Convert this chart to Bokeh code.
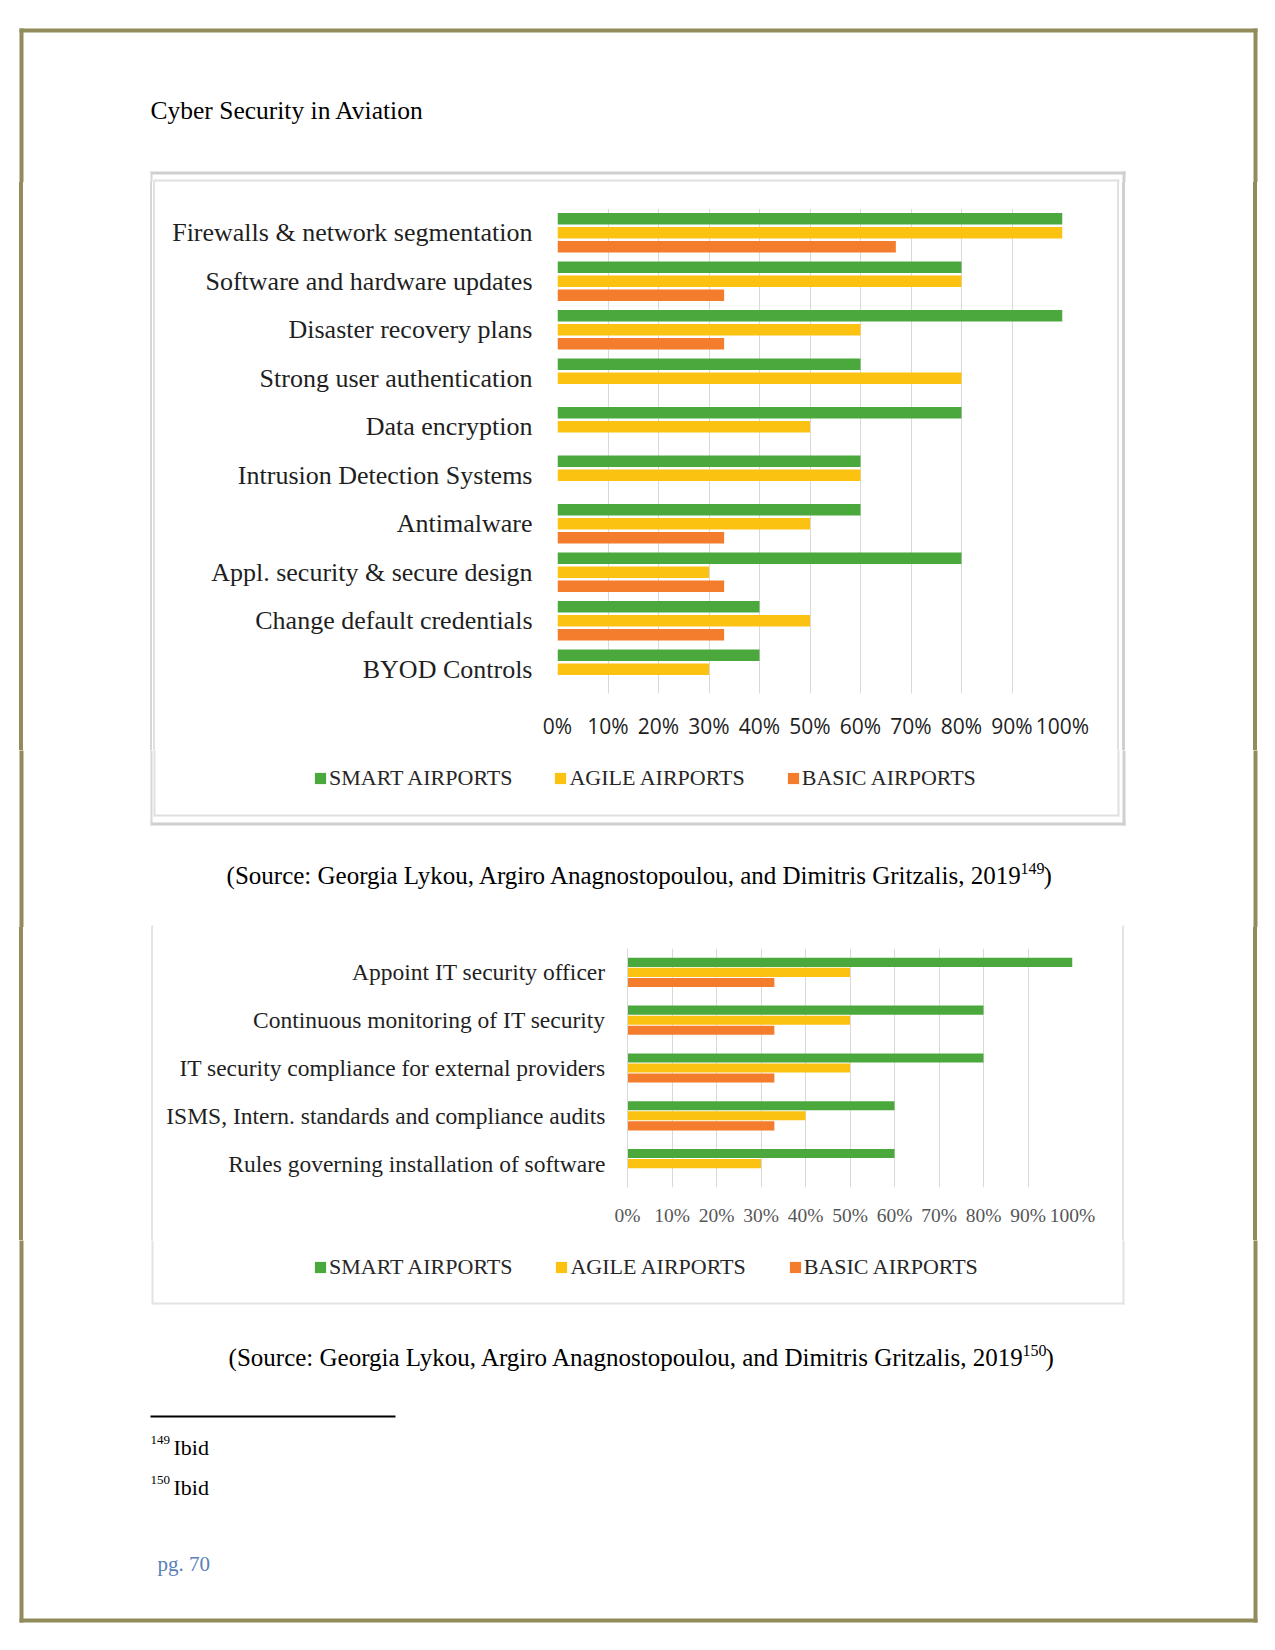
from bokeh.plotting import figure
from bokeh.layouts import column, row
from bokeh.models import (Range1d, FactorRange, FixedTicker, PrintfTickFormatter,
                          Legend, LegendItem, ColumnDataSource, Div)
from bokeh.transform import dodge
from bokeh.core.properties import value
from bokeh.embed import file_html
from bokeh.resources import INLINE

# ---------------- data ----------------
categories_1 = ["Firewalls & network segmentation", "Software and hardware updates",
                "Disaster recovery plans", "Strong user authentication", "Data encryption",
                "Intrusion Detection Systems", "Antimalware", "Appl. security & secure design",
                "Change default credentials", "BYOD Controls"]
smart_1 = [100, 80, 100, 60, 80, 60, 60, 80, 40, 40]
agile_1 = [100, 80, 60, 80, 50, 60, 50, 30, 50, 30]
basic_1 = [67, 33, 33, 0, 0, 0, 33, 33, 33, 0]

categories_2 = ["Appoint IT security officer", "Continuous monitoring of IT security",
                "IT security compliance for external providers",
                "ISMS, Intern. standards and compliance audits",
                "Rules governing installation of software"]
smart_2 = [100, 80, 80, 60, 60]
agile_2 = [50, 50, 50, 40, 30]
basic_2 = [33, 33, 33, 33, 0]

series_names = ["SMART AIRPORTS", "AGILE AIRPORTS", "BASIC AIRPORTS"]
series_colors = ["#4aa83d", "#fcc212", "#f47d2d"]
tick_values = [0, 10, 20, 30, 40, 50, 60, 70, 80, 90, 100]

OLIVE = "#928c5d"
SERIF = "Liberation Serif"

X_EDGES = [0, 156, 1116, 1275]
Y_EDGES = [0, 182, 750, 927, 1240, 1648]

# decorative rectangles of the page (left, right, top, bottom, colour) in page pixels
RECTS = [
    (19, 1257, 28, 32, OLIVE), (19, 1257, 1618, 1622, OLIVE),
    (19, 23, 28, 1622, OLIVE), (1253, 1257, 28, 1622, OLIVE),
    # chart 1 frame, outer
    (150, 1125, 171, 174, "#cfcfcf"), (150, 1125, 822, 825, "#cfcfcf"),
    (1122, 1125, 171, 825, "#cfcfcf"), (150, 152, 171, 825, "#d6d6d6"),
    # chart 1 frame, inner
    (154, 1118, 179, 181, "#e0e0e0"), (154, 1118, 814, 816, "#e0e0e0"),
    (153, 155, 179, 816, "#e0e0e0"), (1117, 1119, 179, 816, "#e0e0e0"),
    # chart 2 frame
    (151, 153, 925, 1304, "#e3e3e3"), (1122, 1124, 925, 1304, "#e3e3e3"),
    (151, 1124, 1302, 1304, "#e3e3e3"),
    # footnote rule
    (150, 395, 1415, 1417, "black"),
]

TEXT_DY = -8  # baseline correction of the text glyphs


def deco_fig(x0, x1, y0, y1, texts=(), legend=None):
    p = figure(width=x1 - x0, height=y1 - y0, x_range=Range1d(x0, x1), y_range=Range1d(y1, y0),
               x_axis_type=None, y_axis_type=None, toolbar_location=None,
               output_backend="svg", min_border=0, title=None)
    p.outline_line_color = None
    p.background_fill_color = "white"
    p.border_fill_color = "white"
    by_col = {}
    for (l, r, t, b, c) in RECTS:
        by_col.setdefault(c, []).append((l, r, t, b))
    for c, rs in by_col.items():
        p.quad(left=[q[0] for q in rs], right=[q[1] for q in rs],
               top=[q[2] for q in rs], bottom=[q[3] for q in rs],
               fill_color=c, line_color=None)
    for (x, y, t, size, align, color) in texts:
        p.text(x=[x], y=[y + TEXT_DY], text=[t], text_font=value(SERIF), text_font_size=size,
               text_align=align, text_baseline="alphabetic", text_color=color)
    if legend is not None:
        (lx, ly, lsize, lspacing) = legend
        items = []
        for n, col in zip(series_names, series_colors):
            # zero-size swatch carrier: only its legend entry is seen
            r = p.hbar(y=[y0], left=[x0], right=[x0], height=0, fill_color=col, line_color=None)
            items.append(LegendItem(label=n, renderers=[r]))
        lg = Legend(items=items, orientation="horizontal",
                    location=(lx - x0, y1 - ly), margin=0, padding=0,
                    spacing=lspacing, glyph_width=14, glyph_height=14, label_standoff=2,
                    label_text_font=SERIF, label_text_font_size=lsize,
                    label_text_color="#262626", border_line_color=None,
                    background_fill_alpha=0, label_height=14)
        p.add_layout(lg, "center")
    return p


def strip_div(x0, x1, y0, y1):
    parts = []
    for (l, r, t, b, c) in RECTS:
        L, R, T, B = max(l, x0), min(r, x1), max(t, y0), min(b, y1)
        if R > L and B > T:
            parts.append(f'<div style="position:absolute;left:{L - x0}px;top:{T - y0}px;'
                         f'width:{R - L}px;height:{B - T}px;background:{c};"></div>')
    html = (f'<div style="position:relative;width:{x1 - x0}px;height:{y1 - y0}px;'
            f'overflow:hidden;background:white;">' + "".join(parts) + '</div>')
    return Div(text=html, width=x1 - x0, height=y1 - y0, margin=0)


def chart_fig(cats, smart, agile, basic, w, h, ml, mr, mt, mb, off, bh,
              label_size, label_standoff, tick_font, tick_size, tick_color,
              tick_standoff, yaxis_line):
    p = figure(width=w, height=h, y_range=FactorRange(factors=cats[::-1]),
               x_range=Range1d(0, 100), toolbar_location=None, output_backend="svg",
               min_border_left=ml, min_border_right=mr, min_border_top=mt,
               min_border_bottom=mb, title=None)
    p.outline_line_color = None
    p.background_fill_color = "white"
    p.border_fill_color = "white"
    src = ColumnDataSource(dict(cat=cats, smart=smart, agile=agile, basic=basic))
    for field, o, col in zip(["smart", "agile", "basic"], [off, 0, -off], series_colors):
        p.hbar(y=dodge("cat", o, range=p.y_range), left=0, right=field, height=bh,
               fill_color=col, line_color=None, source=src)
    p.ygrid.grid_line_color = None
    p.xgrid.grid_line_color = "#d9d9d9"
    p.xgrid.grid_line_width = 1
    p.xaxis.ticker = FixedTicker(ticks=tick_values)
    p.xaxis.formatter = PrintfTickFormatter(format="%d%%")
    p.xaxis.axis_line_color = None
    p.xaxis.major_tick_line_color = None
    p.xaxis.minor_tick_line_color = None
    p.xaxis.major_tick_out = 0
    p.xaxis.major_tick_in = 0
    p.xaxis.major_label_standoff = tick_standoff
    p.xaxis.major_label_text_font = tick_font
    p.xaxis.major_label_text_font_size = tick_size
    p.xaxis.major_label_text_color = tick_color
    p.yaxis.axis_line_color = yaxis_line
    p.yaxis.major_tick_line_color = None
    p.yaxis.major_tick_out = 0
    p.yaxis.major_tick_in = 0
    p.yaxis.major_label_standoff = label_standoff
    p.yaxis.major_label_text_font = SERIF
    p.yaxis.major_label_text_font_size = label_size
    p.yaxis.major_label_text_color = "#1f1f1f"
    return p


W_C = X_EDGES[2] - X_EDGES[1]

top_tile = deco_fig(X_EDGES[0], X_EDGES[3], Y_EDGES[0], Y_EDGES[1],
                    texts=[(150, 118, "Cyber Security in Aviation", "25.5px", "left", "black")])

# chart 1: frame x 557..1062, y 208..693
H1 = Y_EDGES[2] - Y_EDGES[1]
chart1 = chart_fig(categories_1, smart_1, agile_1, basic_1, W_C, H1,
                   ml=557 - X_EDGES[1], mr=X_EDGES[2] - 1062, mt=208 - Y_EDGES[1],
                   mb=Y_EDGES[2] - 693, off=0.29, bh=0.235,
                   label_size="26px", label_standoff=25,
                   tick_font="Open Sans", tick_size="21px", tick_color="#1e1e1e",
                   tick_standoff=18, yaxis_line=None)
row1 = row(strip_div(X_EDGES[0], X_EDGES[1], Y_EDGES[1], Y_EDGES[2]), chart1,
           strip_div(X_EDGES[2], X_EDGES[3], Y_EDGES[1], Y_EDGES[2]))

mid_tile = deco_fig(X_EDGES[0], X_EDGES[3], Y_EDGES[2], Y_EDGES[3], texts=[
    (1023, 883, "(Source: Georgia Lykou, Argiro Anagnostopoulou, and Dimitris Gritzalis, 2019",
     "25px", "right", "black"),
    (1020, 876, "149", "16px", "left", "black"),
    (1043, 883, ")", "25px", "left", "black"),
], legend=(313, 791, "22px", 41))

# chart 2: frame x 627..1072, y 948..1187
H2 = Y_EDGES[4] - Y_EDGES[3]
chart2 = chart_fig(categories_2, smart_2, agile_2, basic_2, W_C, H2,
                   ml=627 - X_EDGES[1], mr=X_EDGES[2] - 1072, mt=948 - Y_EDGES[3],
                   mb=Y_EDGES[4] - 1187, off=0.21, bh=0.19,
                   label_size="23.5px", label_standoff=22,
                   tick_font=SERIF, tick_size="19.5px", tick_color="#555555",
                   tick_standoff=17, yaxis_line="#d9d9d9")
row2 = row(strip_div(X_EDGES[0], X_EDGES[1], Y_EDGES[3], Y_EDGES[4]), chart2,
           strip_div(X_EDGES[2], X_EDGES[3], Y_EDGES[3], Y_EDGES[4]))

bottom_tile = deco_fig(X_EDGES[0], X_EDGES[3], Y_EDGES[4], Y_EDGES[5], texts=[
    (1025, 1365, "(Source: Georgia Lykou, Argiro Anagnostopoulou, and Dimitris Gritzalis, 2019",
     "25px", "right", "black"),
    (1022, 1358, "150", "16px", "left", "black"),
    (1045, 1365, ")", "25px", "left", "black"),
    (150, 1447, "149", "13px", "left", "black"),
    (173, 1455, "Ibid", "22px", "left", "black"),
    (150, 1487, "150", "13px", "left", "black"),
    (173, 1495, "Ibid", "22px", "left", "black"),
    (157, 1571, "pg. 70", "21px", "left", "#5a7fb8"),
], legend=(313, 1280, "22px", 42))

page = column(top_tile, row1, mid_tile, row2, bottom_tile)

with open("out.html", "w") as f:
    f.write(file_html(page, INLINE))
